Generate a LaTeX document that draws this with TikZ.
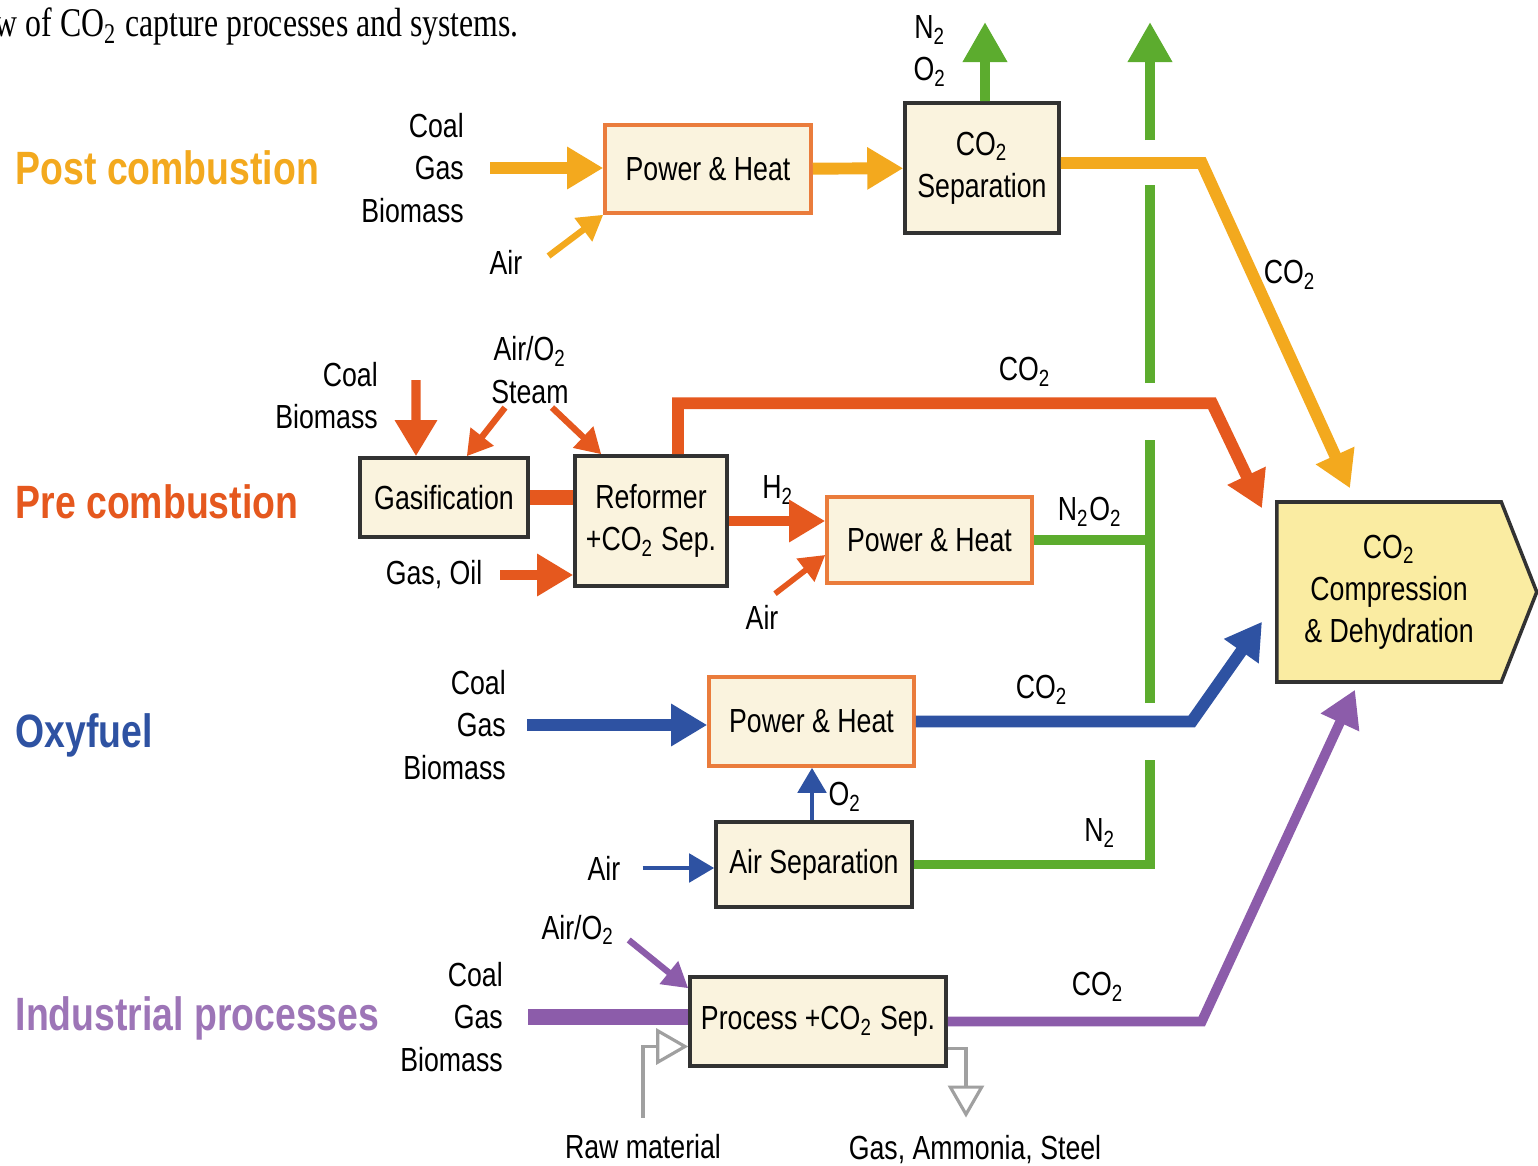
\documentclass[tikz,border=0pt]{standalone}
\usepackage{fontspec}
\setmainfont{Liberation Serif}[FakeStretch=0.78]
\setsansfont{Liberation Sans}[FakeStretch=0.8]
\usepackage{tikz}
\usetikzlibrary{arrows.meta,positioning,calc,shapes.symbols}
\definecolor{postc}{RGB}{243,169,30}
\definecolor{prec}{RGB}{229,88,30}
\definecolor{oxyc}{RGB}{46,82,162}
\definecolor{indc}{RGB}{140,92,170}
\definecolor{gasc}{RGB}{92,172,46}
\definecolor{boxfill}{RGB}{250,243,222}
\definecolor{boxline}{RGB}{50,50,50}
\definecolor{phline}{RGB}{234,124,60}
\definecolor{ccdfill}{RGB}{250,236,162}
\definecolor{opengray}{RGB}{160,160,160}
\newcommand{\cotwo}{CO\textsubscript{2}}

\begin{document}
\begin{tikzpicture}[
  font=\sffamily\fontsize{9.5}{12}\selectfont,
  box/.style={draw=boxline, fill=boxfill, rectangle, line width=1pt, inner sep=0pt, align=center},
  phbox/.style={box, draw=phline},
  lbl/.style={align=center, inner sep=1pt},
  ttl/.style={anchor=west, inner sep=0pt, font=\sffamily\bfseries\fontsize{13.3}{15}\selectfont},
  flow/.style={line width=3.4pt, -{Triangle[length=3.6mm,width=4mm]}},
  thin/.style={line width=1.8pt, -{Triangle[length=2.5mm,width=2.8mm]}},
  pipe/.style={line width=4.3pt},
  gas/.style={draw=gasc, line width=2.8pt},
  vent/.style={gas, -{Triangle[length=4mm,width=4.2mm]}},
  opn/.style={draw=opengray, line width=0.9pt, -{Triangle[length=3.2mm,width=3.6mm,fill=white]}},
]
\useasboundingbox (0,0) rectangle (15.38,-11.66);

% ============ Caption (cut at left) ============
\node[anchor=base west, inner sep=0pt, font=\rmfamily\fontsize{11.6}{14}\selectfont] (caption) at (-0.06,-0.37) {w of \cotwo{} capture processes and systems.};

% ============ Row titles ============
\node[ttl, color=postc] (posttitle) at (0.15,-1.68) {Post combustion};
\node[ttl, color=prec] (pretitle) at (0.15,-5.02) {Pre combustion};
\node[ttl, color=oxyc] (oxytitle) at (0.15,-7.35) {Oxyfuel};
\node[ttl, color=indc!85!white] (indtitle) at (0.15,-10.18) {Industrial processes};

% ============ CO2 compression (right) ============
\node[draw=boxline, fill=ccdfill, line width=1pt, signal, signal to=east, signal pointer angle=137,
      minimum width=2.6cm, minimum height=1.8cm, inner sep=0pt, align=center, anchor=west] (ccd) at (12.75,-5.92)
      {\cotwo\\Compression\\\& Dehydration};

% ============ Post combustion ============
\node[phbox, minimum width=2.06cm, minimum height=0.88cm] (postph) at (7.08,-1.69) {Power \& Heat};
\node[box, minimum width=1.54cm, minimum height=1.30cm] (postsep) at (9.82,-1.68) {\cotwo\\Separation};
\node[lbl, align=right, anchor=east] (postin) at (4.68,-1.68) {Coal\\Gas\\Biomass};
\node[lbl] (postair) at (5.06,-2.62) {Air};
\node[lbl] (postn2) at (9.30,-0.51) {N\textsubscript{2}\\O\textsubscript{2}};
\node[lbl] (postco2) at (12.90,-2.75) {\cotwo};
\coordinate (n2out) at (9.85,-0.22);

% ============ Pre combustion ============
\node[box, minimum width=1.68cm, minimum height=0.79cm] (gasif) at (4.44,-4.975) {Gasification};
\node[box, minimum width=1.52cm, minimum height=1.30cm] (reformer) at (6.51,-5.21) {Reformer\\+\cotwo{} Sep.};
\node[phbox, minimum width=2.05cm, minimum height=0.86cm] (preph) at (9.295,-5.40) {Power \& Heat};
\node[lbl, align=right, anchor=east] (precoal) at (3.82,-3.955) {Coal\\Biomass};
\node[lbl] (presteam) at (5.30,-3.70) {Air/O\textsubscript{2}\\Steam};
\node[lbl] (pregasoil) at (4.34,-5.75) {Gas, Oil};
\node[lbl] (preh2) at (7.78,-4.90) {H\textsubscript{2}};
\node[lbl] (preair) at (7.62,-6.17) {Air};
\node[lbl] (pren2o2) at (10.90,-5.12) {N\textsubscript{2}O\textsubscript{2}};
\node[lbl] (preco2) at (10.25,-3.72) {\cotwo};
\coordinate (coalin) at (4.16,-3.80);

% ============ Oxyfuel ============
\node[phbox, minimum width=2.05cm, minimum height=0.89cm] (oxyph) at (8.115,-7.215) {Power \& Heat};
\node[box, minimum width=1.96cm, minimum height=0.85cm] (airsep) at (8.14,-8.645) {Air Separation};
\node[lbl, align=right, anchor=east] (oxyin) at (5.10,-7.25) {Coal\\Gas\\Biomass};
\node[lbl] (oxyo2) at (8.45,-7.97) {O\textsubscript{2}};
\node[lbl] (oxyair) at (6.04,-8.68) {Air};
\node[lbl] (oxyn2) at (11.00,-8.33) {N\textsubscript{2}};
\node[lbl] (oxyco2) at (10.42,-6.90) {\cotwo};

% ============ Industrial processes ============
\node[box, minimum width=2.56cm, minimum height=0.89cm] (proc) at (8.18,-10.215) {Process +\cotwo{} Sep.};
\node[lbl, align=right, anchor=east] (indin) at (5.07,-10.17) {Coal\\Gas\\Biomass};
\node[lbl] (indair) at (5.78,-9.30) {Air/O\textsubscript{2}};
\node[lbl] (indco2) at (10.98,-9.87) {\cotwo};
\node[lbl] (rawmat) at (6.43,-11.47) {Raw material};
\node[lbl] (products) at (9.75,-11.50) {Gas, Ammonia, Steel};

% ============ N2 / O2 vent trunk (gaps where flows cross) ============
\coordinate (ventout) at (11.50,-0.22);
\coordinate (trunk1) at (11.50,-1.40);
\coordinate (trunk2) at (11.50,-1.85);
\coordinate (trunk3) at (11.50,-3.83);
\coordinate (trunk4) at (11.50,-4.40);
\coordinate (trunk5) at (11.50,-7.03);
\coordinate (trunk6) at (11.50,-7.60);

% ===================== ARROWS =====================

% post combustion
\draw[flow, postc, shorten <=2.2mm] (postin.east) -- (postin.east -| postph.west);
\draw[thin, postc] ([xshift=2.2mm,yshift=0.6mm]postair.east) -- (postph.south west);
\draw[flow, postc] (postph) -- (postsep);
\draw[vent] ([xshift=0.3mm]postsep.north) -- (n2out);
\draw[flow, postc] ([yshift=0.5mm]postsep.east) -- ++(1.41,0) -- ([xshift=7.5mm,yshift=1.2mm]ccd.north west);

% pre combustion
\draw[flow, prec, line width=2.6pt] (coalin) -- ([xshift=-2.8mm]gasif.north);
\draw[thin, prec] ([xshift=-2.5mm]presteam.south) -- ([xshift=-6.3mm]gasif.north east);
\draw[thin, prec] ([xshift=2.2mm]presteam.south) -- ([xshift=2.8mm]reformer.north west);
\draw[pipe, prec] (gasif.east) -- (gasif.east -| reformer.west);
\draw[flow, prec, line width=2.8pt, shorten <=1.4mm] (pregasoil.east) -- (pregasoil.east -| reformer.west);
\draw[flow, prec] ([xshift=2.7mm]reformer.north) -- ++(0,0.51) -- ++(5.34,0) -- ([xshift=-1.3mm,yshift=-0.8mm]ccd.north west);
\draw[flow, prec, line width=2.8pt] (reformer.east) -- (reformer.east -| preph.west);
\draw[thin, prec, line width=1.6pt] ([xshift=1.3mm,yshift=0.7mm]preair.north) -- ([yshift=-1.5mm]preph.west);
\draw[gas] (preph.east) -- (preph.east -| trunk5);

% oxyfuel
\draw[flow, oxyc, shorten <=1.7mm] (oxyin.east) -- (oxyin.east -| oxyph.west);
\draw[flow, oxyc] (oxyph.east) -- ++(2.76,0) -- ([xshift=-1.3mm,yshift=6.2mm]ccd.south west);
\draw[thin, oxyc, line width=1.4pt] ([xshift=-0.2mm]airsep.north) -- ([xshift=-0.2mm]airsep.north |- oxyph.south);
\draw[thin, oxyc, line width=1.4pt, shorten <=1.8mm] (oxyair.east) -- (oxyair.east -| airsep.west);

% vent trunk
\draw[gas] (airsep.east) -| (trunk6);
\draw[gas] (trunk5) -- (trunk4);
\draw[gas] (trunk3) -- (trunk2);
\draw[vent] (trunk1) -- (ventout);

% industrial processes
\draw[pipe, indc, shorten <=2.1mm] (indin.east) -- (indin.east -| proc.west);
\draw[thin, indc] ([xshift=1mm,yshift=-1mm]indair.east) -- ([yshift=-1.3mm]proc.north west);
\draw[flow, indc, line width=2.8pt] (proc.east) -- ++(2.54,0) -- ([xshift=8mm,yshift=-0.6mm]ccd.south west);
\draw[opn, shorten <=1.3mm] (rawmat.north) |- ([yshift=-2.5mm]proc.west);
\draw[opn, shorten >=1.4mm] ([yshift=-2.7mm]proc.east) -| ([xshift=-0.9mm]products.north);

\end{tikzpicture}
\end{document}
